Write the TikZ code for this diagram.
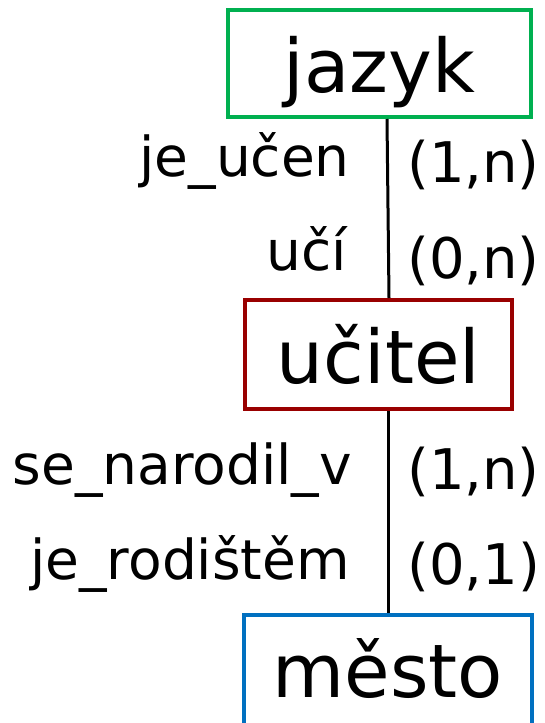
\documentclass[tikz,border=0pt]{standalone}
\usepackage{fontspec}
\setmainfont{DejaVu Sans}
\definecolor{boxgreen}{HTML}{00B050}
\definecolor{boxred}{HTML}{990000}
\definecolor{boxblue}{HTML}{0070C0}
\tikzset{
  entity/.style={draw, line width=4pt, rectangle, inner sep=0pt,
    minimum height=109pt, text height=58pt, text depth=0pt,
    font=\fontsize{74}{80}\selectfont},
  rolelabel/.style={inner sep=0pt, anchor=base east, font=\fontsize{55}{60}\selectfont},
  cardlabel/.style={inner sep=0pt, anchor=base west, font=\fontsize{56}{60}\selectfont},
  link/.style={line width=3pt, black}
}
\begin{document}
\begin{tikzpicture}[x=1pt,y=-1pt]
\useasboundingbox (0,0) rectangle (545,723);
\node[entity, boxgreen, text=black, minimum width=303pt, minimum height=107.5pt] (jazyk) at (379.5,63.25) {jazyk};
\node[entity, boxred, text=black, minimum width=267pt] (ucitel) at (378.5,354.5) {učitel};
\node[entity, boxblue, text=black, minimum width=288pt, minimum height=112pt, text height=52pt] (mesto) at (388,671) {město};
\draw[link] ([xshift=7.5pt]jazyk.south) -- ([xshift=10.5pt]ucitel.north);
\draw[link] ([xshift=9.5pt]ucitel.south) -- (mesto.north);
\node[rolelabel] (r1) at (350,176) {je\_učen};
\node[cardlabel] (c1) at (407,182) {(1,n)};
\node[rolelabel] (r2) at (347,270) {učí};
\node[cardlabel] (c2) at (407,278) {(0,n)};
\node[rolelabel] (r3) at (352,484) {se\_narodil\_v};
\node[cardlabel] (c3) at (407,489) {(1,n)};
\node[rolelabel] (r4) at (350,579) {je\_rodištěm};
\node[cardlabel] (c4) at (407,584) {(0,1)};
\end{tikzpicture}
\end{document}
